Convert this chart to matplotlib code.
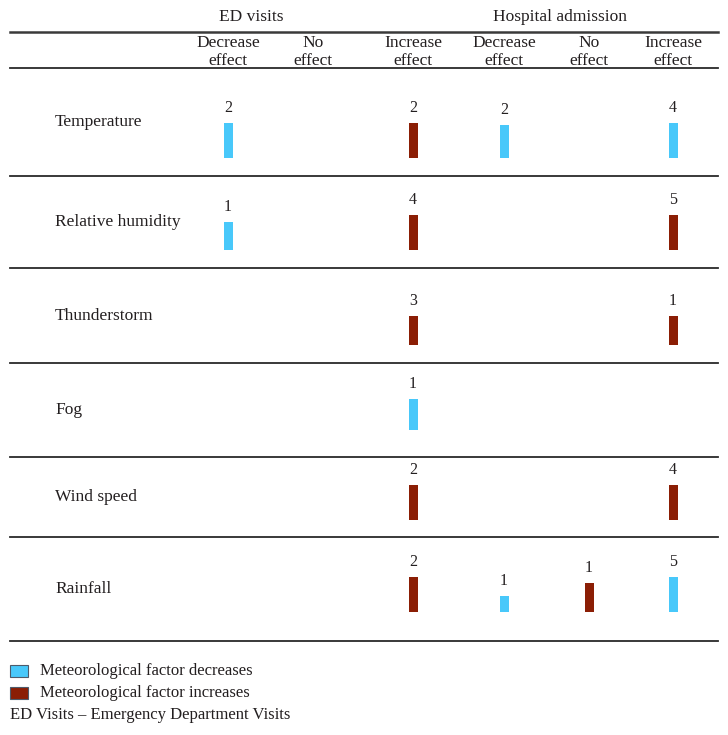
import matplotlib.pyplot as plt
from matplotlib.patches import Rectangle

# ---------------------------------------------
# DATA
# ---------------------------------------------
groups = ['ED visits', 'Hospital admission']
columns = ['Decrease\neffect', 'No\neffect', 'Increase\neffect',
           'Decrease\neffect', 'No\neffect', 'Increase\neffect']
factors = ['Temperature', 'Relative humidity', 'Thunderstorm', 'Fog', 'Wind speed', 'Rainfall']

# number of studies in each cell (None = empty cell)
counts = [
    [2, None, 2, 2, None, 4],
    [1, None, 4, None, None, 5],
    [None, None, 3, None, None, 1],
    [None, None, 1, None, None, None],
    [None, None, 2, None, None, 4],
    [None, None, 2, 1, 1, 5],
]
# d = meteorological factor decreases, i = meteorological factor increases
direction = [
    ['d', '', 'i', 'd', '', 'd'],
    ['d', '', 'i', '', '', 'i'],
    ['', '', 'i', '', '', 'i'],
    ['', '', 'd', '', '', ''],
    ['', '', 'i', '', '', 'i'],
    ['', '', 'i', 'd', 'i', 'd'],
]
# bar length as drawn in the source
bar_len = [
    [35, 0, 35, 33, 0, 35],
    [28, 0, 35, 0, 0, 35],
    [0, 0, 29, 0, 0, 29],
    [0, 0, 31, 0, 0, 0],
    [0, 0, 35, 0, 0, 35],
    [0, 0, 35, 16, 29, 35],
]
legend_labels = ['Meteorological factor decreases', 'Meteorological factor increases']
footnote = 'ED Visits – Emergency Department Visits'

# ---------------------------------------------
# LAYOUT / STYLE
# ---------------------------------------------
blue = '#48C8FA'
brown = '#8B1E05'
txt = '#231F20'
colors = {'d': blue, 'i': brown}

col_x = [228, 313, 413, 504, 589, 673]
group_x = [251, 560]
row_lines = [68, 176, 268, 363, 457, 537, 641]
baselines = [158, 250, 345, 430, 520, 612]

plt.rcParams['font.family'] = ['Liberation Serif', 'DejaVu Serif']

fig = plt.figure(figsize=(7.28, 7.35), dpi=100)
ax = fig.add_axes([0, 0, 1, 1])
ax.set_xlim(0, 728)
ax.set_ylim(735, 0)
ax.axis('off')

# header
for g, gx in zip(groups, group_x):
    ax.text(gx, 17, g, ha='center', va='center', fontsize=12.5, color=txt)
for c, cx in zip(columns, col_x):
    top, bot = c.split('\n')
    ax.text(cx, 43, top, ha='center', va='center', fontsize=12.5, color=txt)
    ax.text(cx, 61, bot, ha='center', va='center', fontsize=12.5, color=txt)

ax.plot([10, 718], [32, 32], color='#3a3a3a', lw=1.8)
for y in row_lines:
    ax.plot([10, 718], [y, y], color='#2a2a2a', lw=1.3)

# rows
for r, f in enumerate(factors):
    ymid = (row_lines[r] + row_lines[r + 1]) / 2
    ax.text(55, ymid, f, ha='left', va='center', fontsize=12.5, color=txt)
    for c in range(len(columns)):
        if counts[r][c] is None:
            continue
        h = bar_len[r][c]
        ax.bar(col_x[c], h, bottom=baselines[r] - h, width=9,
               color=colors[direction[r][c]], edgecolor='none')
        ax.text(col_x[c], baselines[r] - h - 15, str(counts[r][c]),
                ha='center', va='center', fontsize=11.5, color=txt)

# legend
for k, (lab, col) in enumerate(zip(legend_labels, [blue, brown])):
    y = 671 + k * 22
    ax.add_patch(Rectangle((10, y - 6), 18, 12, facecolor=col, edgecolor='#4d5b6b', lw=0.8))
    ax.text(40, y, lab, ha='left', va='center', fontsize=12, color=txt)
ax.text(10, 715, footnote, ha='left', va='center', fontsize=12, color=txt)

plt.savefig('out.png', dpi=100)
